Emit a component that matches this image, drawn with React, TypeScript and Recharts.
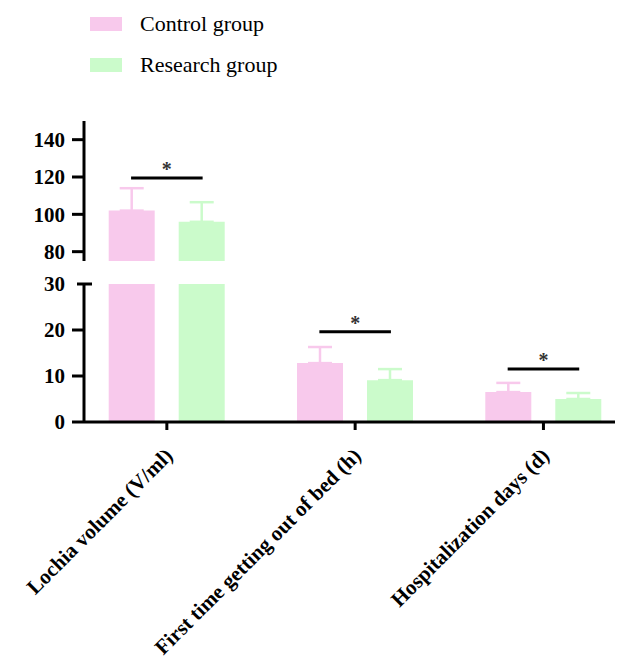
import { BarChart, Bar, XAxis, YAxis, ErrorBar, ReferenceLine, Legend } from 'recharts'

const categories = ['Lochia volume (V/ml)', 'First time getting out of bed (h)', 'Hospitalization days (d)']
const controlMean = [102, 12.8, 6.5]
const controlSd = [12, 3.5, 2.0]
const researchMean = [96, 9.1, 5.0]
const researchSd = [10.5, 2.4, 1.3]
// height of the significance bracket over each pair
const bracketLevel = [119.5, 19.6, 11.5]

const upperDomain = [75, 150]
const upperTicks = [75, 80, 100, 120, 140]
const lowerDomain = [0, 30]
const lowerTicks = [0, 10, 20, 30]

const PINK = '#F8C9EC'
const GREEN = '#CBFBCB'
const SERIF = '"Liberation Serif", "Times New Roman", serif'
const TICK_SIZE = 12
const TICK_GAP = 7
const X_DOMAIN = [-0.44, 2.38]

const rows = categories.map((name, i) => ({
  pos: i,
  name,
  control: controlMean[i],
  controlErr: [0, controlSd[i]],
  research: researchMean[i],
  researchErr: [0, researchSd[i]],
}))

// y tick with a short "cap" drawn on the break value instead of a normal tick
function makeYTick(capValue: number, showCapLabel: boolean) {
  return function YTick(props: any) {
    const { x, y, payload } = props
    const axisX = x + TICK_SIZE + TICK_GAP
    const isCap = payload.value === capValue
    return (
      <g>
        {isCap ? (
          <line x1={axisX - 7} x2={axisX + 8} y1={y} y2={y} stroke="#000" strokeWidth={3} />
        ) : (
          <line x1={axisX - TICK_SIZE} x2={axisX} y1={y} y2={y} stroke="#000" strokeWidth={3} />
        )}
        {(!isCap || showCapLabel) && (
          <text x={x} y={y} dy="0.35em" textAnchor="end" fontFamily={SERIF} fontWeight="bold" fontSize={21} fill="#000">
            {payload.value}
          </text>
        )}
      </g>
    )
  }
}

function XTick(props: any) {
  const { x, y, payload } = props
  const ax = x + 7
  const ay = y + 25
  return (
    <text
      x={ax}
      y={ay}
      transform={`rotate(-45, ${ax}, ${ay})`}
      textAnchor="end"
      fontFamily={SERIF}
      fontWeight="bold"
      fontSize={21}
      fill="#000"
    >
      {categories[payload.value]}
    </text>
  )
}

function GroupLegend(props: any) {
  const { payload } = props
  return (
    <div>
      {payload.map((item: any) => (
        <div key={item.value} style={{ display: 'flex', alignItems: 'center', height: 41 }}>
          <span style={{ display: 'inline-block', width: 32, height: 14, background: item.color, marginRight: 18 }} />
          <span style={{ fontFamily: SERIF, fontSize: 22, color: '#000' }}>{item.value}</span>
        </div>
      ))}
    </div>
  )
}

function Bracket(level: number, i: number) {
  return (
    <ReferenceLine
      key={i}
      segment={[
        { x: i - 0.19, y: level },
        { x: i + 0.19, y: level },
      ]}
      stroke="#000"
      strokeWidth={3}
      ifOverflow="visible"
      label={{ value: '*', position: 'top', offset: 2, fill: '#333', fontFamily: SERIF, fontWeight: 'bold', fontSize: 20 }}
    />
  )
}

function bars(withLegend: boolean) {
  return [
    <Bar key="c" dataKey="control" name="Control group" fill={PINK} barSize={46} isAnimationActive={false}>
      <ErrorBar dataKey="controlErr" direction="y" width={12} stroke={PINK} strokeWidth={2.5} />
    </Bar>,
    <Bar key="r" dataKey="research" name="Research group" fill={GREEN} barSize={46} isAnimationActive={false}>
      <ErrorBar dataKey="researchErr" direction="y" width={12} stroke={GREEN} strokeWidth={2.5} />
    </Bar>,
    withLegend ? (
      <Legend
        key="legend"
        layout="vertical"
        align="center"
        verticalAlign="middle"
        content={<GroupLegend />}
        wrapperStyle={{ top: 3, left: 90, width: 'auto' }}
      />
    ) : null,
  ]
}

export default function App() {
  return (
    <div style={{ position: 'absolute', left: 0, top: 0, width: 619, height: 668, background: '#fff' }}>
      <div style={{ position: 'absolute', left: 0, top: 0 }}>
        <BarChart width={619} height={270} data={rows} margin={{ top: 121, right: 4, bottom: 9, left: 0 }} barGap={24}>
          <XAxis type="number" dataKey="pos" domain={X_DOMAIN} ticks={[0, 1, 2]} allowDataOverflow hide />
          <YAxis
            type="number"
            domain={upperDomain}
            ticks={upperTicks}
            allowDataOverflow
            width={84}
            tickSize={TICK_SIZE}
            tickMargin={TICK_GAP}
            tickLine={false}
            axisLine={{ stroke: '#000', strokeWidth: 3 }}
            tick={makeYTick(75, false)}
          />
          {bars(true)}
          {bracketLevel.map((lv, i) => (lv >= upperDomain[0] ? Bracket(lv, i) : null))}
        </BarChart>
      </div>
      <div style={{ position: 'absolute', left: 0, top: 270 }}>
        <BarChart width={619} height={398} data={rows} margin={{ top: 14, right: 4, bottom: 0, left: 0 }} barGap={24}>
          <XAxis
            type="number"
            dataKey="pos"
            domain={X_DOMAIN}
            ticks={[0, 1, 2]}
            allowDataOverflow
            height={246}
            tickSize={8}
            axisLine={{ stroke: '#000', strokeWidth: 3 }}
            tickLine={{ stroke: '#000', strokeWidth: 3 }}
            tick={<XTick />}
            interval={0}
          />
          <YAxis
            type="number"
            domain={lowerDomain}
            ticks={lowerTicks}
            allowDataOverflow
            width={84}
            tickSize={TICK_SIZE}
            tickMargin={TICK_GAP}
            tickLine={false}
            axisLine={{ stroke: '#000', strokeWidth: 3 }}
            tick={makeYTick(30, true)}
          />
          {bars(false)}
          {bracketLevel.map((lv, i) => (lv <= lowerDomain[1] ? Bracket(lv, i) : null))}
        </BarChart>
      </div>
    </div>
  )
}
